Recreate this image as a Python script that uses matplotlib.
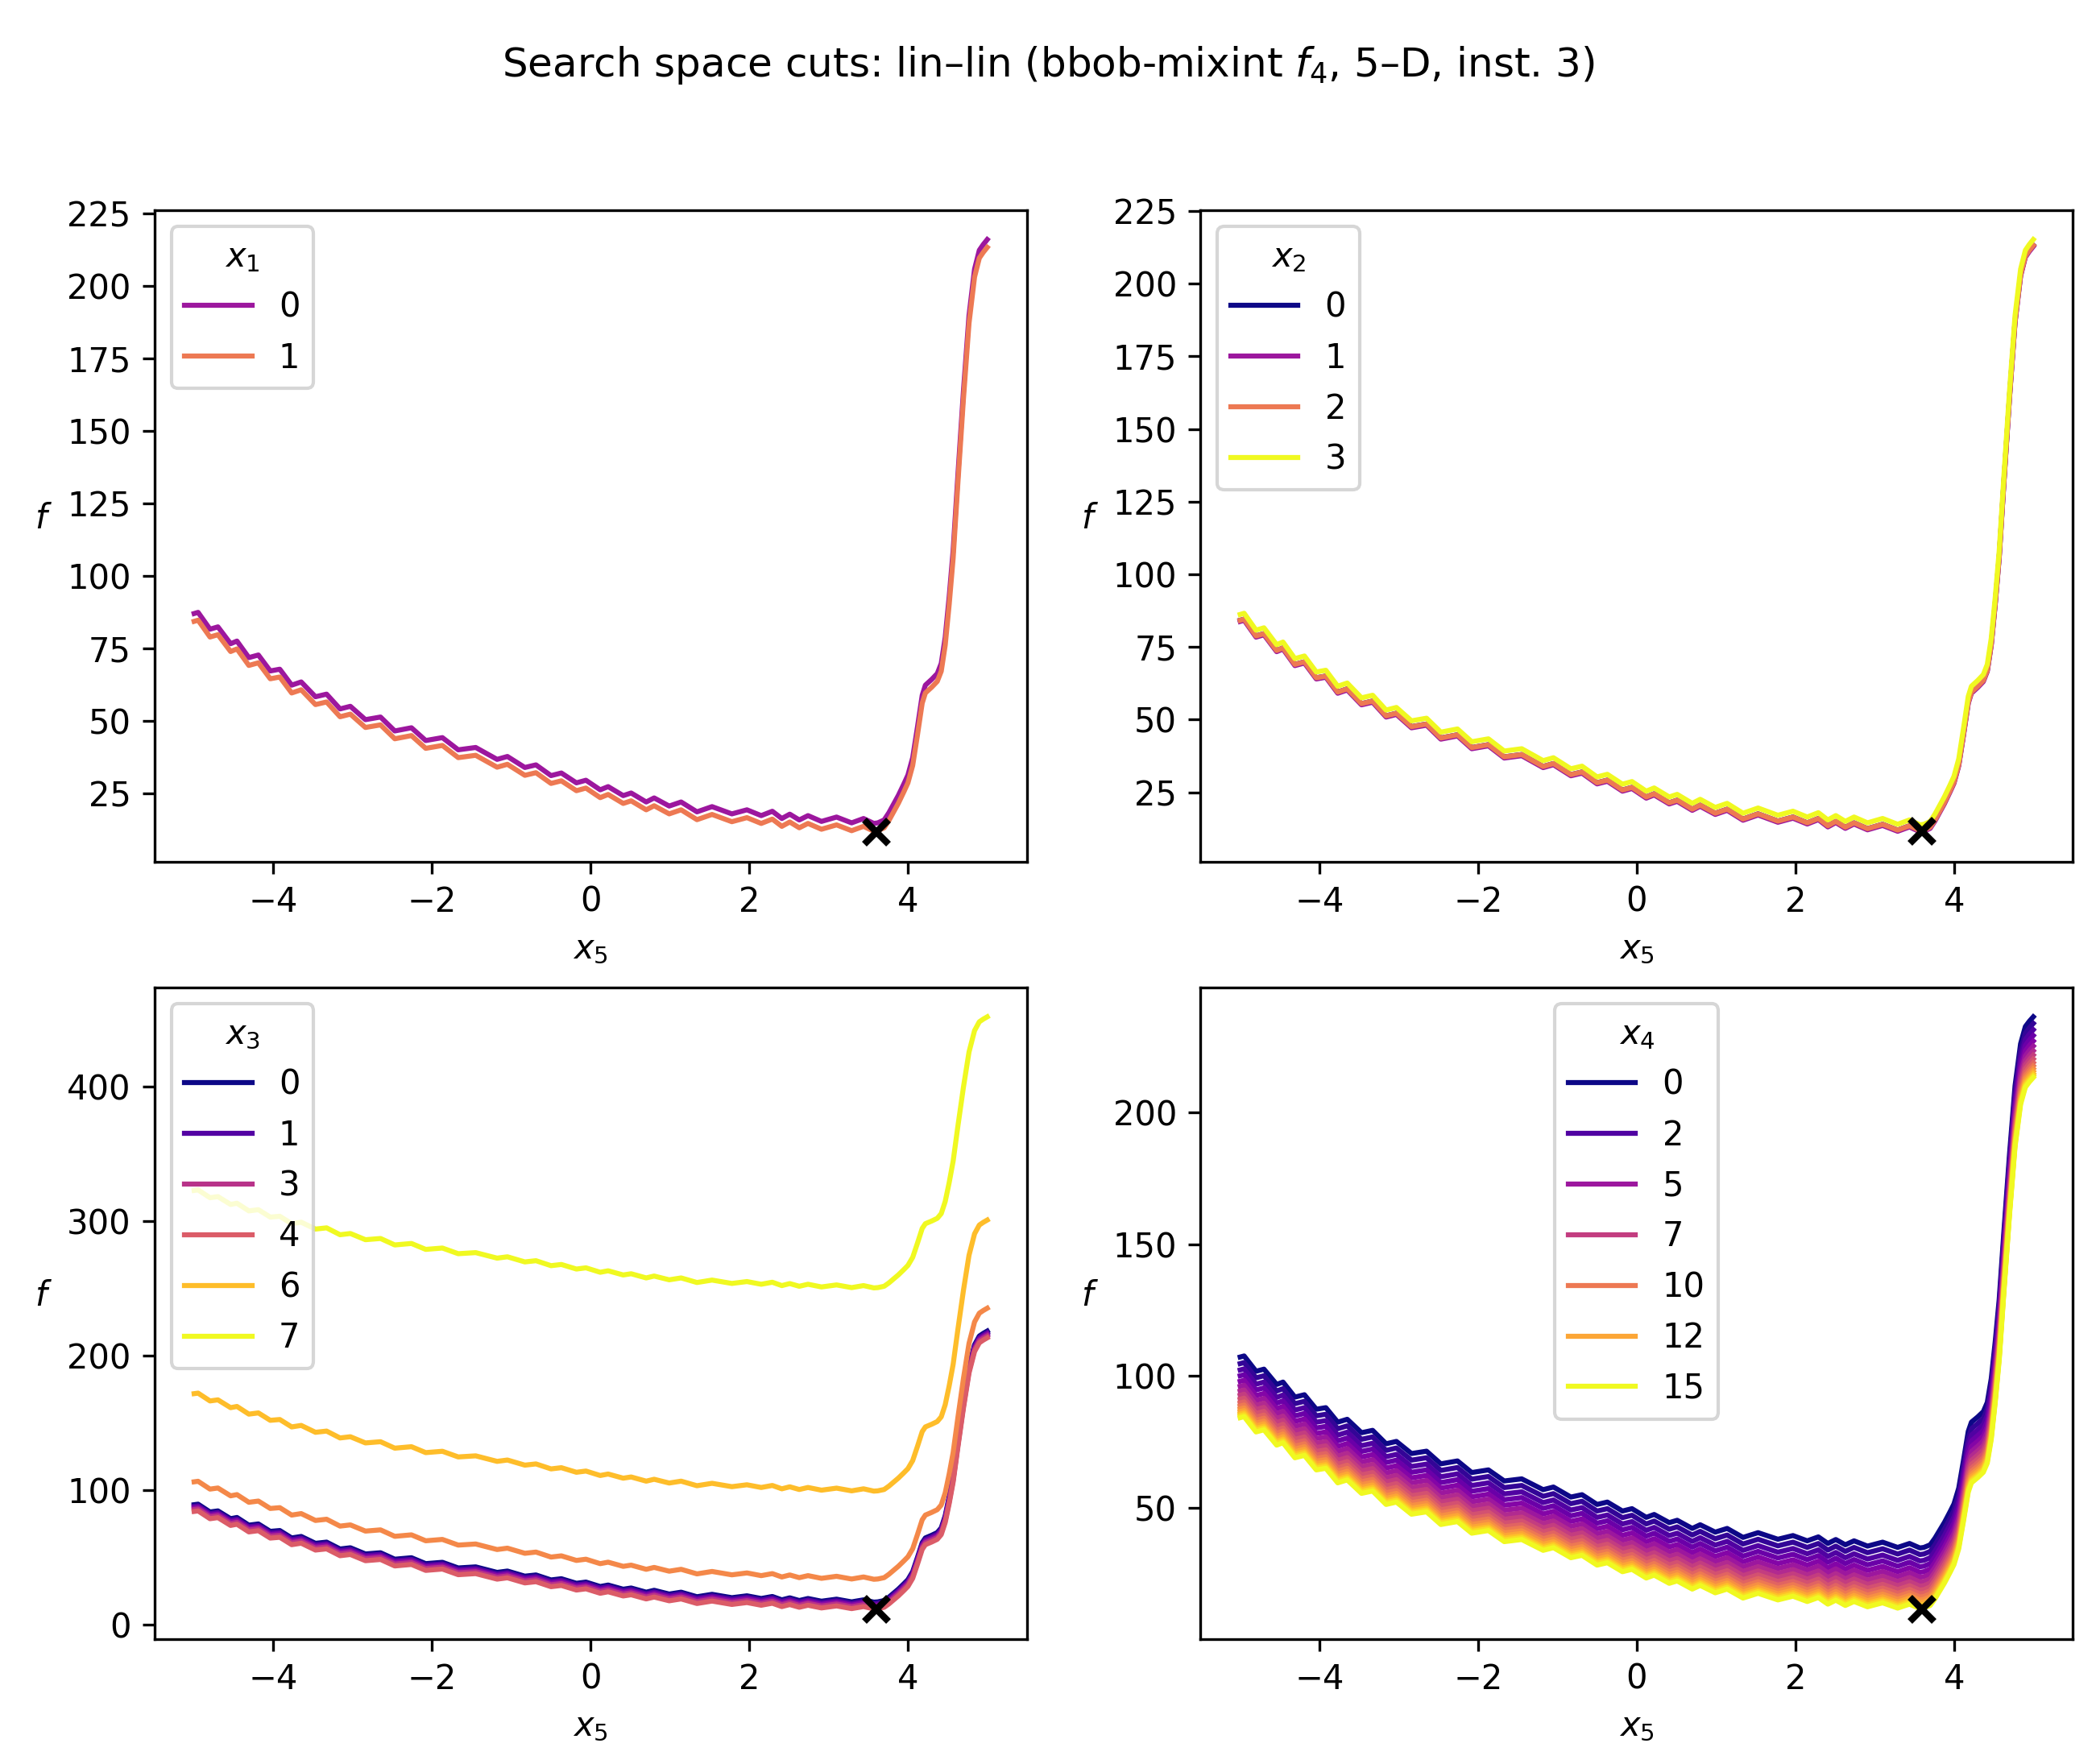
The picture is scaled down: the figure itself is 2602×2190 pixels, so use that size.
import numpy as np
import matplotlib.pyplot as plt

# cut along x5 (local minima / maxima)
x5 = [-5.00, -4.95, -4.80, -4.70, -4.54, -4.46, -4.31, -4.19, -4.04, -3.92,
      -3.77, -3.65, -3.47, -3.33, -3.16, -3.03, -2.84, -2.65, -2.47, -2.26,
      -2.08, -1.87, -1.67, -1.45, -1.18, -1.05, -0.83, -0.69, -0.50, -0.37,
      -0.18, -0.06, 0.12, 0.22, 0.41, 0.51, 0.70, 0.80, 0.99, 1.14,
      1.34, 1.53, 1.78, 1.97, 2.15, 2.29, 2.41, 2.51, 2.63, 2.74,
      2.91, 3.10, 3.29, 3.44, 3.57, 3.62, 3.70, 3.76, 3.82, 3.88,
      3.95, 4.00, 4.06, 4.12, 4.18, 4.22, 4.30, 4.37, 4.42, 4.47,
      4.52, 4.57, 4.63, 4.70, 4.77, 4.84, 4.90, 4.95, 5.00]
f_base = [84.2, 84.6, 78.8, 79.6, 73.8, 74.7, 69.0, 69.9, 64.4, 65.0,
          59.5, 60.6, 55.5, 56.4, 51.3, 52.2, 47.6, 48.5, 43.7, 44.8,
          40.4, 41.4, 37.2, 38.0, 33.9, 34.9, 31.1, 32.0, 28.3, 29.2,
          25.8, 26.7, 23.4, 24.5, 21.4, 22.3, 19.2, 20.6, 17.8, 19.2,
          15.8, 17.6, 15.1, 16.5, 14.5, 16.0, 13.5, 15.0, 13.0, 14.5,
          12.5, 14.0, 12.0, 13.5, 11.8, 12.0, 13.0, 15.5, 18.5, 21.5,
          25.5, 28.5, 34.5, 45.0, 56.0, 59.5, 61.5, 63.5, 67.0, 76.0,
          90.0, 106.0, 132.0, 161.0, 187.0, 203.0, 209.5, 211.5, 213.2]

x_opt = 3.6
f_opt = 11.6

# shift of every level of the other variable w.r.t. f_base
shift_x1 = [2.7, 0.0]
shift_x2 = [0.0, -0.4, 0.0, 2.0]
shift_x3 = [5.0, 3.8, 2.6, 1.4, 0.0, 22.0, 87.5, 238.5]
shift_x4 = [23.0, 20.5, 18.1, 15.9, 13.8, 11.9, 10.1, 8.5,
            7.0, 5.6, 4.4, 3.3, 2.3, 1.4, 0.7, 0.0]

# levels that show up in the legends
shown_x1 = [0, 1]
shown_x2 = [0, 1, 2, 3]
shown_x3 = [0, 1, 3, 4, 6, 7]
shown_x4 = [0, 2, 5, 7, 10, 12, 15]

x5 = np.array(x5)
f_base = np.array(f_base)

panels = [
    (r'$x_1$', shift_x1, shown_x1, [1/3, 2/3], 'upper left'),
    (r'$x_2$', shift_x2, shown_x2, np.linspace(0, 1, 4), 'upper left'),
    (r'$x_3$', shift_x3, shown_x3, np.linspace(0, 1, 8), 'upper left'),
    (r'$x_4$', shift_x4, shown_x4, np.linspace(0, 1, 16), 'upper center'),
]

fig = plt.figure(figsize=(2602/300, 2190/300), dpi=300)
axs = fig.subplots(2, 2)
fig.subplots_adjust(left=0.0737, right=0.989, top=0.881, bottom=0.071,
                    wspace=0.199, hspace=0.193)

for ax, (name, shifts, shown, cpos, loc) in zip(axs.flat, panels):
    handles = []
    for k, s in enumerate(shifts):
        line, = ax.plot(x5, f_base + s, color=plt.cm.plasma(cpos[k]), lw=1.5,
                        label=str(k))
        if k in shown:
            handles.append(line)
    ax.plot([x_opt], [f_opt], 'kx', ms=7, mew=2, zorder=5)
    ax.set_xlabel(r'$x_5$')
    ax.set_ylabel(r'$f$', rotation=0, labelpad=7)
    ax.legend(handles=handles, title=name, loc=loc)

fig.suptitle(r'Search space cuts: lin–lin (bbob-mixint $f_4$, 5–D, inst. 3)',
             y=0.975)
fig.savefig('out.png', dpi=300)
